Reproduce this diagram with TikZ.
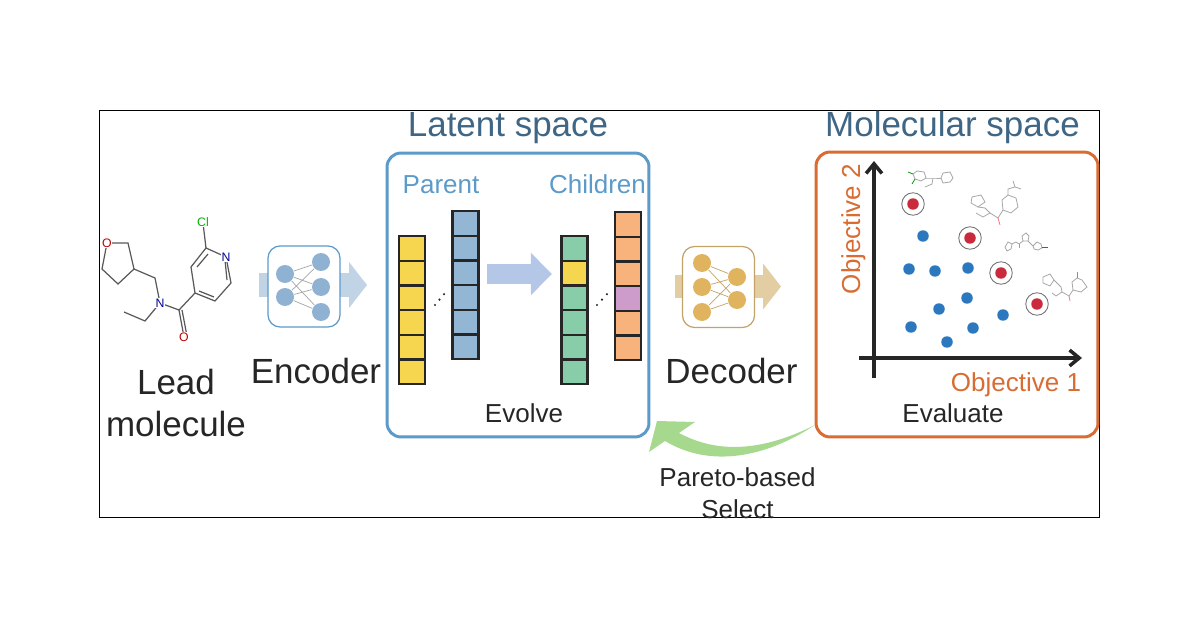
\documentclass[tikz,border=0pt]{standalone}
\usepackage{fontspec}
\setmainfont{Liberation Sans}
\usetikzlibrary{arrows.meta, positioning, calc}

\definecolor{latentblue}{HTML}{5B9AC9}
\definecolor{molorange}{HTML}{D96C33}
\definecolor{titleblue}{HTML}{3F6684}
\definecolor{netblue}{HTML}{8FB1D2}
\definecolor{nettan}{HTML}{E0B45E}
\definecolor{cellyellow}{HTML}{F5D64E}
\definecolor{cellblue}{HTML}{93B6D4}
\definecolor{cellgreen}{HTML}{88CDA9}
\definecolor{cellorange}{HTML}{F8B27C}
\definecolor{cellpurple}{HTML}{CD9CCB}
\definecolor{dotblue}{HTML}{2C78BE}
\definecolor{dotred}{HTML}{C92A3C}
\definecolor{arrowgreen}{HTML}{A6D88E}
\definecolor{evolveblue}{HTML}{B4C7E7}
\definecolor{inktext}{HTML}{262626}

\begin{document}
\begin{tikzpicture}[x=0.02cm, y=-0.02cm,
    >=Latex,
    bigtxt/.style={
        font=\fontsize{19.9}{24}\selectfont,
        text=inktext,
        inner sep=0pt,
        align=center
    },
    smalltxt/.style={
        font=\fontsize{14.8}{18}\selectfont,
        text=inktext,
        inner sep=0pt,
        align=center
    },
    panel/.style={
        draw,
        rounded corners=0.28cm,
        line width=1.7pt
    },
    netbox/.style={
        draw,
        fill=white,
        rounded corners=0.24cm,
        minimum width=1.44cm,
        minimum height=1.62cm,
        line width=0.7pt
    },
    neuron/.style={
        circle,
        minimum size=0.37cm,
        inner sep=0pt
    },
    cell/.style={
        draw=inktext,
        minimum width=0.52cm,
        minimum height=0.495cm,
        inner sep=0pt,
        line width=1.3pt
    },
    fatflow/.style={
        line width=#1,
        -{Triangle[length=10.2pt, width=25.6pt]}
    },
    axisline/.style={
        draw=inktext,
        line width=2pt,
        -{Straight Barb[length=5.5pt, width=9pt, line width=2pt]}
    },
    objpoint/.style={
        circle,
        minimum size=0.23cm,
        inner sep=0pt
    },
    atom/.style={
        font=\fontsize{7}{8}\selectfont,
        fill=white,
        inner sep=0.4pt
    },
    leadbond/.style={
        draw=black!65,
        line width=0.7pt
    },
    molbond/.style={
        draw=black!35,
        line width=0.45pt
    }
]

\useasboundingbox (0,0) rectangle (1200,628);
\node[draw=black, line width=0.6pt, minimum width=20.02cm, minimum height=8.16cm, inner sep=0pt] (frame) at (599.5,314) {};

% =====================
% Lead molecule
% =====================

\draw[leadbond] (107,243) -- (128,243) -- (134,269) -- (118,284) -- (102,269) -- cycle;
\draw[leadbond] (134,269) -- (155,278) -- (160,303) -- (145,321) -- (124,312);
\draw[leadbond] (160,303) -- (179,310) -- (195,293) -- (191,267) -- (206,248) -- (226,257) -- (231,283) -- (215,301) -- (195,293);
\draw[leadbond] (179,310) -- (184,337);
\draw[leadbond] (182,310) -- (187,336);
\draw[leadbond] (206,248) -- (203,223);
\draw[leadbond] (197,267) -- (208,254);
\draw[leadbond] (225,260) -- (227,280);
\draw[leadbond] (199,291) -- (214,297);

\node[atom, text=red!75!black] (leadoa) at (107,243) {O};
\node[atom, text=red!75!black] (leadob) at (184,337) {O};
\node[atom, text=blue!60!black] (leadna) at (160,303) {N};
\node[atom, text=blue!60!black] (leadnb) at (226,257) {N};
\node[atom, text=green!70!black] (leadcl) at (203,222) {Cl};

\node[bigtxt, font=\fontsize{19.9}{23.9}\selectfont] (leadlabel) at (176,403) {Lead\\molecule};

% =====================
% Encoder
% =====================

\coordinate (encin) at (259,285);
\coordinate (encout) at (367,285);
\draw[fatflow=13.4pt, color=netblue!55] (encin) -- (encout);

\node[netbox, draw=latentblue] (encbox) at (304,286.5) {};

\node[neuron] (ena) at (285,274) {};
\node[neuron] (enb) at (285,297) {};
\node[neuron] (enc) at (321,262) {};
\node[neuron] (end) at (321,287) {};
\node[neuron] (ene) at (321,312) {};
\foreach \s in {ena,enb}
    \foreach \t in {enc,end,ene}
        \draw[black!35, line width=0.4pt] (\s) -- (\t);
\foreach \s in {ena,enb,enc,end,ene}
    \fill[netblue] (\s) circle (9);

\node[bigtxt, anchor=base] (enclabel) at (316,383) {Encoder};

% =====================
% Latent space
% =====================

\node[panel, draw=latentblue, minimum width=5.24cm, minimum height=5.68cm] (latent) at (518,295) {};
\node[bigtxt, text=titleblue, anchor=base] (latentlabel) at (508,137) {Latent space};

\node[smalltxt, text=latentblue, anchor=base] (parentlabel) at (441,194) {Parent};
\node[smalltxt, text=latentblue, anchor=base] (childlabel) at (597.5,194) {Children};

\foreach \i in {0,...,5} {
    \node[cell, fill=cellyellow] (pa\i) at (412,{248.4+24.7*\i}) {};
    \node[cell, fill=cellblue] (pb\i) at (465.5,{223.4+24.7*\i}) {};
}

\foreach \i/\c in {0/cellgreen,1/cellyellow,2/cellgreen,3/cellgreen,4/cellgreen,5/cellgreen}
    \node[cell, fill=\c] (ca\i) at (574.5,{248.4+24.7*\i}) {};
\foreach \i/\c in {0/cellorange,1/cellorange,2/cellorange,3/cellpurple,4/cellorange,5/cellorange}
    \node[cell, fill=\c] (cb\i) at (628,{224.4+24.7*\i}) {};

\foreach \x in {0,4.5,9} {
    \fill[inktext] ({435+\x},{305-\x*1.2}) circle (1.2);
    \fill[inktext] ({597+\x*1.1},{305-\x*1.2}) circle (1.2);
}

\coordinate (evolvein) at (487,274);
\coordinate (evolveout) at (552,274);
\draw[line width=11.9pt, color=evolveblue, -{Triangle[length=12pt, width=23.3pt]}] (evolvein) -- (evolveout);

\node[smalltxt, anchor=base] (evolvelabel) at (524,422) {Evolve};

% =====================
% Decoder
% =====================

\coordinate (decin) at (675,286.5);
\coordinate (decout) at (781,286.5);
\draw[fatflow=13.4pt, color=nettan!55!white!90!gray] (decin) -- (decout);

\node[netbox, draw=nettan!70!gray] (decbox) at (718.5,287) {};

\node[neuron] (dea) at (702,263) {};
\node[neuron] (deb) at (702,287) {};
\node[neuron] (dec) at (702,312) {};
\node[neuron] (ded) at (737,277) {};
\node[neuron] (dee) at (737,300) {};
\foreach \s in {dea,deb,dec}
    \foreach \t in {ded,dee}
        \draw[nettan!70!gray, line width=0.4pt] (\s) -- (\t);
\foreach \s in {dea,deb,dec,ded,dee}
    \fill[nettan] (\s) circle (9);

\node[bigtxt, anchor=base] (declabel) at (731.5,383) {Decoder};

% =====================
% Molecular space
% =====================

\node[panel, draw=molorange, minimum width=5.64cm, minimum height=5.7cm] (molecular) at (957,294.5) {};
\node[bigtxt, text=titleblue, anchor=base] (mollabel) at (952.5,137) {Molecular space};

\coordinate (xstart) at (859,358);
\coordinate (xend) at (1082,358);
\coordinate (ystart) at (874,378);
\coordinate (yend) at (874,161);
\draw[axisline] (xstart) -- (xend);
\draw[axisline] (ystart) -- (yend);

\node[smalltxt, text=molorange, anchor=base] (objonelabel) at (1016,391) {Objective 1};
\node[smalltxt, text=molorange, anchor=base, rotate=90] (objtwolabel) at (860,229) {Objective 2};
\node[smalltxt, anchor=base] (evaluatelabel) at (953,422) {Evaluate};

\foreach \x/\y [count=\n] in {923/236, 909/269, 935/271, 968/268, 967/298, 939/309, 911/327, 973/328, 947/342, 1003/315}
    \node[objpoint, fill=dotblue] (blue\n) at (\x,\y) {};

\foreach \x/\y [count=\n] in {913/204, 970/238, 1001/273, 1037/304} {
    \node[objpoint, fill=dotred] (red\n) at (\x,\y) {};
    \node[circle, draw=black!55, line width=0.5pt, minimum size=0.45cm, inner sep=0pt] (ring\n) at (\x,\y) {};
}

% candidate molecules
\draw[molbond] (917,171) -- (924,172) -- (926,178) -- (921,181) -- (915,179) -- (913,174) -- cycle;
\draw[molbond] (943,173) -- (950,172) -- (953,178) -- (950,182) -- (943,183) -- (941,178) -- cycle;
\draw[molbond] (926,178) -- (933,178) -- (941,178);
\draw[molbond] (933,178) -- (932,184) -- (925,187);
\draw[green!60!black, line width=0.45pt] (913,174) -- (908,172);
\draw[green!60!black, line width=0.45pt] (915,179) -- (912,184);

\draw[molbond] (972,197) -- (981,195) -- (985,202) -- (978,207) -- (971,203) -- cycle;
\draw[molbond] (978,207) -- (985,208) -- (990,213) -- (983,217) -- (976,213);
\draw[molbond] (990,213) -- (998,218) -- (1003,210) -- (1002,200) -- (1008,195) -- (1016,198) -- (1018,207) -- (1011,213) -- (1003,210);
\draw[molbond] (1008,195) -- (1008,189) -- (1015,187) -- (1013,181);
\draw[molbond] (1015,187) -- (1021,189);
\draw[red!55, line width=0.45pt] (998,218) -- (1000,225);

\draw[molbond] (1005,247) -- (1008,242) -- (1012,244) -- (1011,249) -- (1007,251) -- cycle;
\draw[molbond] (1012,244) -- (1016,242) -- (1019,244) -- (1023,241) -- (1022,236) -- (1026,233) -- (1029,236) -- (1028,241) -- (1023,241);
\draw[molbond] (1028,241) -- (1033,246) -- (1037,242) -- (1041,244) -- (1042,248) -- (1038,250) -- (1034,249) -- (1033,246);
\draw[red!55, line width=0.45pt] (1019,244) -- (1019,248);
\draw[green!60!black, line width=0.45pt] (1042,247) -- (1048,247);

\draw[molbond] (1043,277) -- (1050,274) -- (1054,280) -- (1050,286) -- (1043,283) -- cycle;
\draw[molbond] (1054,280) -- (1061,287) -- (1062,292) -- (1056,296) -- (1052,293);
\draw[molbond] (1062,292) -- (1069,296) -- (1073,290) -- (1072,282) -- (1077,278) -- (1082,280) -- (1087,287) -- (1081,292) -- (1073,290);
\draw[red!55, line width=0.45pt] (1069,296) -- (1070,301);
\draw[blue!50, line width=0.45pt] (1077,278) -- (1077,272);

% =====================
% Pareto-based select arrow
% =====================

\coordinate (selecttip) at (649,452);
\fill[arrowgreen] (selecttip) -- (657,421) -- (695,422) -- (679,433)
    .. controls (720,455) and (765,450) .. (815,425)
    .. controls (765,458) and (710,468) .. (665,441) -- cycle;

\node[smalltxt, font=\fontsize{14.8}{18}\selectfont] (selectlabel) at (737.5,493.5) {Pareto-based\\Select};

\end{tikzpicture}
\end{document}
